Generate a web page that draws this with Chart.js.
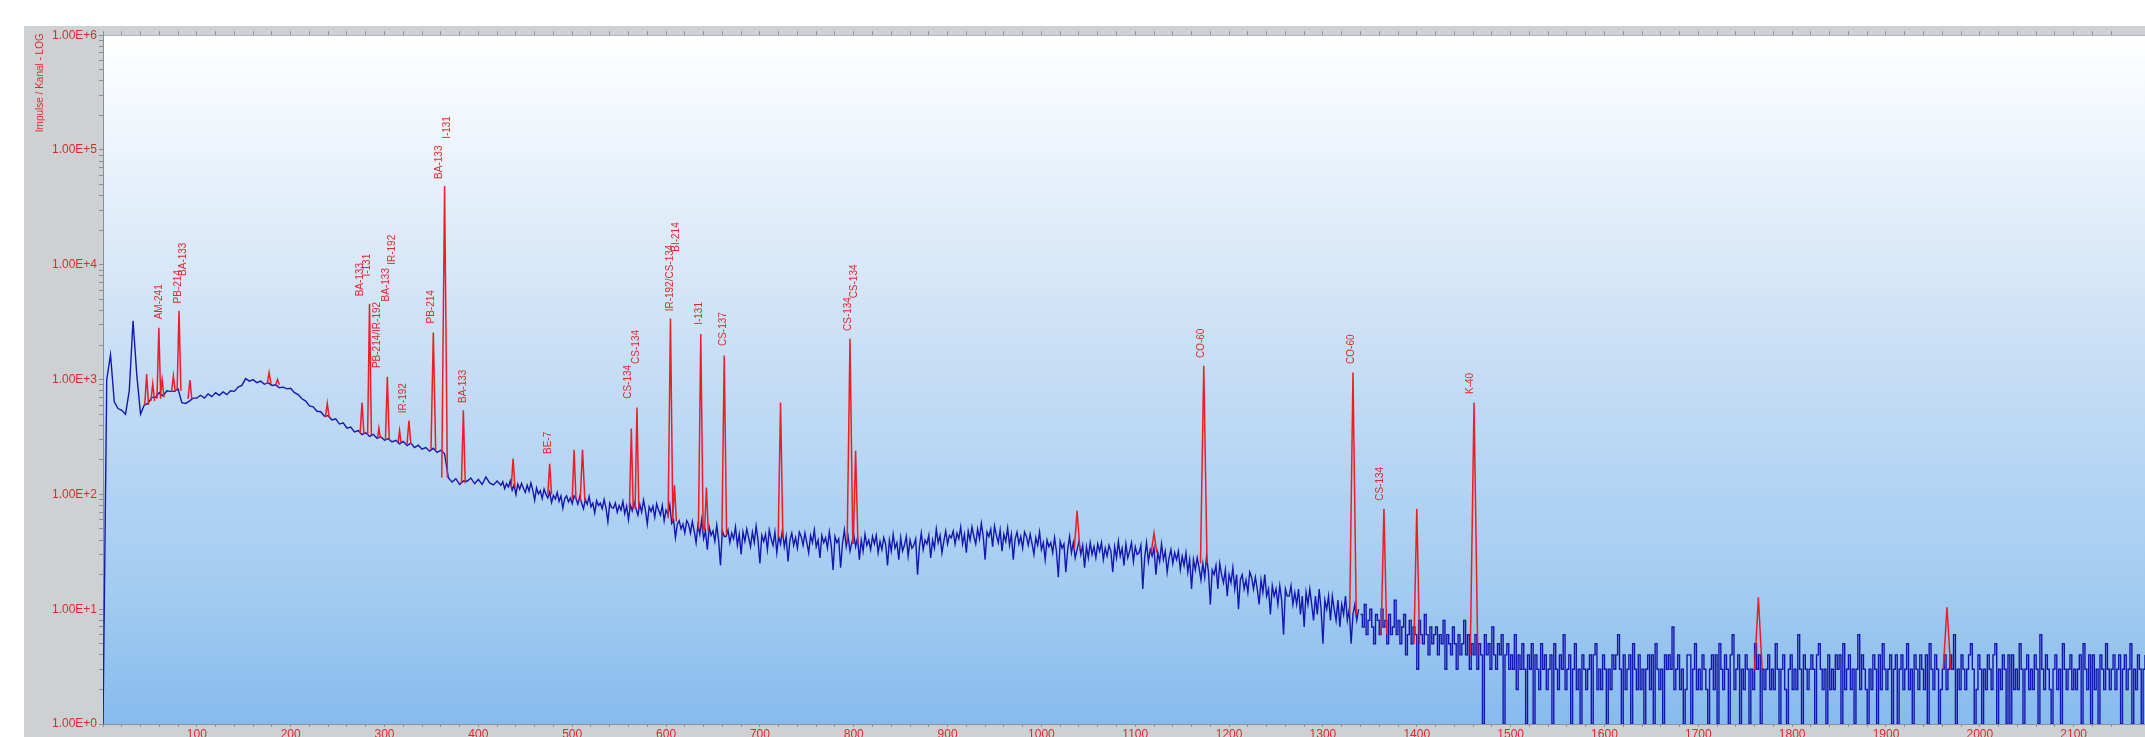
<!DOCTYPE html>
<html>
<head>
<meta charset="utf-8">
<title>Gamma spectrum</title>
<script src="https://cdn.jsdelivr.net/npm/chart.js@4.4.0/dist/chart.umd.min.js"></script>
<style>
  html, body { margin: 0; padding: 0; background: #ffffff; }
  #chartBox { position: absolute; left: 24px; top: 26px; width: 2121px; height: 711px; }
</style>
</head>
<body>
<div id="chartBox"><canvas id="spectrumChart"></canvas></div>
<script>
// spectrum.js - gamma spectrum (Impulse / Kanal, log scale)

// Continuum 0 - 420 keV, one value per 4 keV bin
const lowStepKeV = 4;
const lowCounts = [
    1, 1000, 1650, 640, 560, 540, 500, 800, 3250, 1100,
    500, 600, 620, 700, 700, 770, 720, 800, 790, 790,
    830, 630, 620, 650, 690, 690, 730, 690, 750, 710,
    770, 730, 780, 740, 800, 790, 860, 890, 1020, 970,
    1000, 940, 970, 910, 940, 890, 900, 850, 860, 830,
    840, 770, 740, 680, 650, 590, 580, 530, 525, 480,
    485, 445, 455, 410, 420, 378, 386, 350, 360, 332,
    344, 320, 334, 308, 318, 296, 306, 286, 296, 276,
    290, 266, 280, 256, 268, 248, 256, 238, 252, 232,
    242, 226, 140, 128, 137, 122, 131, 130, 139, 124,
    135, 122, 142, 126, 121, 131
];

// Continuum 424 - 1338 keV, one value per 2 keV bin
const midStartKeV = 424;
const midStepKeV = 2;
const midCounts = [
    120, 129, 112, 124, 116, 131, 109, 121, 100, 123, 111, 125, 113, 104, 120, 107, 126, 109, 89, 114,
    101, 108, 92, 111, 100, 93, 105, 85, 98, 91, 104, 87, 97, 76, 92, 97, 86, 93, 83, 97,
    92, 82, 96, 84, 75, 90, 82, 96, 78, 84, 69, 88, 80, 84, 75, 90, 76, 58, 84, 77,
    76, 84, 70, 80, 73, 87, 68, 79, 60, 81, 72, 85, 75, 66, 82, 70, 89, 73, 55, 78,
    71, 79, 63, 83, 73, 66, 80, 59, 73, 67, 81, 56, 60, 42, 55, 59, 50, 55, 46, 59,
    55, 46, 58, 48, 38, 54, 45, 60, 41, 48, 33, 52, 44, 48, 39, 54, 40, 24, 48, 43,
    43, 49, 38, 46, 41, 52, 36, 45, 30, 47, 39, 50, 42, 35, 47, 38, 53, 40, 25, 44,
    39, 45, 33, 49, 41, 36, 47, 31, 43, 37, 49, 35, 43, 26, 40, 46, 36, 42, 34, 47,
    43, 36, 46, 38, 31, 44, 38, 49, 35, 40, 28, 44, 38, 42, 34, 47, 36, 22, 43, 38,
    41, 23, 37, 49, 35, 43, 32, 38, 45, 35, 42, 27, 40, 32, 45, 36, 40, 33, 43, 37,
    44, 31, 39, 33, 42, 37, 24, 40, 32, 45, 34, 38, 27, 42, 32, 36, 43, 29, 40, 34,
    36, 41, 20, 35, 46, 33, 40, 37, 44, 28, 40, 34, 50, 38, 44, 31, 39, 48, 37, 44,
    42, 48, 37, 46, 41, 52, 37, 45, 31, 48, 40, 52, 43, 37, 50, 41, 56, 43, 27, 47,
    43, 50, 35, 53, 44, 38, 49, 32, 45, 39, 51, 36, 45, 27, 41, 47, 37, 43, 34, 47,
    43, 36, 45, 37, 30, 42, 36, 47, 33, 38, 27, 40, 35, 38, 31, 42, 32, 19, 39, 34,
    37, 21, 33, 43, 31, 38, 28, 33, 39, 30, 36, 23, 35, 28, 38, 30, 35, 28, 37, 32,
    38, 27, 34, 29, 36, 32, 21, 35, 28, 39, 29, 34, 24, 37, 28, 32, 38, 26, 35, 30,
    31, 36, 15, 28, 38, 26, 33, 29, 34, 20, 31, 26, 37, 27, 32, 21, 28, 33, 25, 31,
    27, 32, 22, 29, 24, 31, 21, 27, 15, 27, 22, 28, 23, 18, 25, 19, 29, 21, 11, 22,
    20, 24, 15, 25, 20, 17, 22, 13, 20, 17, 23, 15, 20, 10, 18, 20, 15, 18, 14, 21,
    19, 15, 19, 15, 11, 18, 14, 20, 13, 15, 9, 16, 13, 15, 11, 16, 12, 6, 15, 13,
    13, 16, 11, 14, 11, 15, 9, 13, 7, 14, 11, 15, 11, 8, 13, 9, 15, 10, 5, 12,
    10, 13, 8, 13, 10, 8, 12, 7, 11, 9, 13, 8, 10, 5, 9, 11, 8, 10
];

// Continuum from 1340 keV, one value per 2 keV bin (few counts, drawn stepped)
const highStartKeV = 1340;
const highStepKeV = 2;
const highCounts = [
    9, 7, 11, 6, 8, 10, 7, 5, 9, 8, 6, 10, 7, 8, 5, 9, 6, 7, 12, 6,
    8, 5, 7, 9, 4, 6, 8, 5, 7, 6, 3, 8, 6, 5, 9, 6, 4, 7, 5, 6,
    7, 4, 6, 5, 8, 3, 6, 5, 4, 7, 5, 3, 6, 4, 5, 8, 4, 6, 3, 5,
    4, 6, 3, 5, 4, 1, 6, 4, 5, 3, 7, 4, 3, 5, 4, 6, 1, 4, 5, 3,
    4, 3, 6, 2, 4, 3, 5, 3, 1, 4, 3, 5, 1, 4, 3, 2, 5, 3, 4, 2,
    3, 4, 1, 5, 3, 2, 4, 3, 6, 2, 3, 4, 1, 3, 5, 2, 3, 1, 4, 3,
    2, 3, 4, 1, 4, 5, 2, 3, 2, 4, 3, 1, 3, 2, 4, 3, 4, 6, 3, 1,
    4, 2, 3, 4, 1, 5, 3, 2, 4, 2, 3, 1, 3, 4, 2, 4, 1, 5, 3, 2,
    3, 1, 4, 3, 4, 3, 7, 2, 3, 4, 2, 3, 1, 2, 4, 4, 1, 3, 5, 2,
    3, 2, 4, 3, 2, 1, 3, 4, 2, 4, 1, 5, 3, 2, 4, 3, 1, 4, 6, 2,
    3, 4, 1, 3, 2, 4, 3, 1, 3, 2, 5, 3, 4, 1, 3, 2, 3, 4, 2, 3,
    2, 5, 3, 1, 3, 4, 2, 1, 3, 4, 2, 3, 2, 6, 3, 1, 4, 3, 2, 3,
    4, 3, 1, 4, 5, 3, 2, 3, 1, 4, 2, 3, 2, 4, 3, 4, 1, 5, 2, 3,
    4, 2, 3, 1, 3, 6, 2, 4, 3, 2, 1, 3, 2, 4, 3, 1, 4, 2, 5, 3,
    2, 3, 4, 1, 3, 4, 1, 3, 4, 2, 3, 5, 2, 3, 1, 4, 3, 2, 4, 3,
    2, 4, 1, 5, 3, 2, 4, 3, 1, 2, 3, 4, 2, 3, 4, 3, 6, 1, 3, 2,
    4, 3, 2, 3, 4, 5, 3, 1, 2, 4, 3, 1, 3, 2, 4, 3, 2, 4, 5, 1,
    3, 2, 4, 3, 1, 4, 1, 4, 2, 3, 2, 5, 3, 1, 3, 4, 2, 3, 2, 4,
    3, 1, 6, 3, 2, 4, 3, 2, 1, 3, 4, 2, 3, 1, 5, 3, 2, 3, 4, 2,
    3, 2, 3, 4, 1, 5, 3, 2, 4, 1, 4, 2, 3, 1, 4, 3, 2, 5, 3, 2,
    3, 4, 2, 3, 4, 1, 3, 4, 2, 3, 5, 1, 3, 2, 4, 3, 1, 3, 4
];

// Identified peaks (red): centre keV, top count, count at foot, half width keV
const peakEnergies = [46.5, 53, 59.5, 63, 75, 81, 92.6, 177, 186, 239,
    276, 284, 294, 303, 316, 326, 352, 364, 384, 437,
    476, 502, 511, 563, 569, 604.7, 609, 637, 643, 662,
    722, 796, 802, 1038, 1120, 1173, 1332, 1365, 1400, 1461,
    1764, 1965];
const peakTops = [1120, 920, 2830, 1000, 1080, 3980, 990, 1150, 1000, 620,
    630, 4570, 380, 1060, 360, 440, 2570, 48600, 540, 205,
    185, 245, 245, 375, 570, 3400, 120, 2500, 115, 1620,
    630, 2270, 240, 72, 46, 1320, 1150, 75, 75, 630,
    12.7, 10.4];
const peakBases = [600, 650, 680, 700, 780, 800, 680, 920, 900, 470,
    340, 330, 310, 300, 285, 275, 245, 140, 125, 115,
    100, 90, 88, 75, 75, 62, 58, 50, 48, 44,
    42, 38, 37, 33, 31, 25, 9, 6, 5, 4,
    3, 3];
const peakHalfWidths = [2, 2, 2, 2, 2, 2, 2, 2, 2, 2,
    2, 2, 1.5, 2, 1.5, 2, 2.5, 3, 2, 2,
    2, 2, 2.5, 2, 2, 2.5, 2, 2.5, 2, 2.5,
    2.5, 3, 2.5, 3, 3, 3.5, 3.5, 3, 3, 4,
    4, 4];

// Nuclide labels: text, keV of the text column, count where the text starts
const labelTexts = ['AM-241', 'PB-214', 'BA-133', 'BA-133', 'I-131', 'PB-214/IR-192',
    'BA-133', 'IR-192', 'IR-192', 'PB-214', 'BA-133', 'I-131', 'BA-133', 'BE-7',
    'CS-134', 'CS-134', 'IR-192/CS-134', 'BI-214', 'I-131', 'CS-137', 'CS-134',
    'CS-134', 'CO-60', 'CO-60', 'CS-134', 'K-40'];
const labelEnergies = [59.7, 80, 85, 274, 282, 292,
    301.5, 308, 320, 349.5, 358, 366.5, 383.6, 474,
    560, 568, 605, 611, 635, 661, 794,
    801, 1170, 1330, 1361, 1457];
const labelCounts = [3350, 4610, 8000, 5310, 7900, 1260,
    4800, 10000, 510, 3080, 56000, 125000, 625, 225,
    680, 1370, 3930, 13000, 3000, 1960, 2650,
    5100, 1540, 1370, 88, 750];

// Axis ticks
const yDecades = [1, 10, 100, 1000, 10000, 100000, 1000000];
const yTickLabels = ['1.00E+0', '1.00E+1', '1.00E+2', '1.00E+3', '1.00E+4', '1.00E+5', '1.00E+6'];
const xMajorTicks = [100, 200, 300, 400, 500, 600, 700, 800, 900, 1000, 1100,
    1200, 1300, 1400, 1500, 1600, 1700, 1800, 1900, 2000, 2100];
const xMaxKeV = 2176;

const RED = '#ee1c24';
const LABEL_RED = '#e02a2a';
const BLUE = '#1616b0';
const FONT = '"Liberation Sans", Arial, sans-serif';

// build datasets
const continuumPoints = lowCounts.map((c, i) => ({ x: i * lowStepKeV, y: c }))
    .concat(midCounts.map((c, i) => ({ x: midStartKeV + i * midStepKeV, y: c })));
const highPoints = highCounts.map((c, i) => ({ x: highStartKeV + i * highStepKeV, y: c }));

const peakPoints = [];
peakEnergies.forEach((e, i) => {
    const hw = peakHalfWidths[i];
    peakPoints.push({ x: e - hw, y: peakBases[i] });
    peakPoints.push({ x: e, y: peakTops[i] });
    peakPoints.push({ x: e + hw, y: peakBases[i] });
    peakPoints.push({ x: e + hw, y: null });
});

const yTickValues = [];
yDecades.forEach(d => {
    for (let m = 1; m < 10; m++) {
        if (d * m <= 1000000) yTickValues.push(d * m);
    }
});

const framePlugin = {
    id: 'frame',
    beforeDraw(chart) {
        const { ctx, chartArea: a, width, height } = chart;
        ctx.save();
        ctx.fillStyle = '#cdd1d4';
        ctx.fillRect(0, 0, width, height);
        const g = ctx.createLinearGradient(0, a.top, 0, a.bottom);
        g.addColorStop(0, '#ffffff');
        g.addColorStop(0.15, '#eef5fc');
        g.addColorStop(0.5, '#c4dcf4');
        g.addColorStop(0.8, '#a3ccf1');
        g.addColorStop(1, '#86bbed');
        ctx.fillStyle = g;
        ctx.fillRect(a.left, a.top, a.right - a.left, a.bottom - a.top);
        ctx.restore();
    }
};

const labelPlugin = {
    id: 'peakLabels',
    afterDatasetsDraw(chart) {
        const { ctx, scales, chartArea } = chart;
        ctx.save();
        ctx.fillStyle = LABEL_RED;
        ctx.font = '10px ' + FONT;
        ctx.textAlign = 'left';
        ctx.textBaseline = 'middle';
        labelTexts.forEach((txt, i) => {
            const x = scales.x.getPixelForValue(labelEnergies[i]);
            const y = scales.y.getPixelForValue(labelCounts[i]);
            ctx.save();
            ctx.translate(x, y);
            ctx.rotate(-Math.PI / 2);
            ctx.fillText(txt, 0, 0);
            ctx.restore();
        });

        // y axis title, top aligned like the original
        ctx.font = '10px ' + FONT;
        ctx.translate(chartArea.left - 63, chartArea.top + 97);
        ctx.rotate(-Math.PI / 2);
        ctx.fillText('Impulse / Kanal - LOG', 0, 0);
        ctx.restore();
    }
};

const ctx = document.getElementById('spectrumChart').getContext('2d');
new Chart(ctx, {
    type: 'line',
    data: {
        datasets: [
            {
                label: 'Peaks',
                data: peakPoints,
                borderColor: RED,
                borderWidth: 1.5,
                pointRadius: 0,
                spanGaps: false,
                order: 0
            },
            {
                label: 'Spectrum',
                data: continuumPoints,
                borderColor: BLUE,
                borderWidth: 1.4,
                pointRadius: 0,
                order: 1
            },
            {
                label: 'Spectrum high',
                data: highPoints,
                borderColor: BLUE,
                borderWidth: 1.4,
                pointRadius: 0,
                stepped: true,
                order: 2
            }
        ]
    },
    options: {
        responsive: true,
        maintainAspectRatio: false,
        animation: false,
        layout: { padding: 0 },
        plugins: {
            legend: { display: false },
            tooltip: { enabled: false }
        },
        scales: {
            x: {
                type: 'linear',
                position: 'bottom',
                min: 0,
                max: xMaxKeV,
                afterFit: s => { s.height = 13; },
                border: { color: '#8a8f94' },
                grid: { drawOnChartArea: false, tickLength: 3, color: '#8a8f94' },
                ticks: {
                    stepSize: 20,
                    autoSkip: false,
                    maxRotation: 0,
                    padding: 0,
                    color: LABEL_RED,
                    font: { family: FONT, size: 12 },
                    callback: v => (xMajorTicks.includes(v) ? String(v) : '')
                }
            },
            xTop: {
                type: 'linear',
                position: 'top',
                min: 0,
                max: xMaxKeV,
                afterFit: s => { s.height = 7; },
                border: { color: '#b4b8bc' },
                grid: { drawOnChartArea: false, tickLength: 4, color: '#8a8f94' },
                ticks: { stepSize: 20, autoSkip: false, display: false }
            },
            y: {
                type: 'logarithmic',
                min: 1,
                max: 1000000,
                afterFit: s => { s.width = 79; },
                afterBuildTicks: s => { s.ticks = yTickValues.map(v => ({ value: v })); },
                border: { color: '#8a8f94' },
                grid: { drawOnChartArea: false, tickLength: 4, color: '#8a8f94' },
                ticks: {
                    autoSkip: false,
                    padding: 2,
                    color: LABEL_RED,
                    font: { family: FONT, size: 12 },
                    callback: v => {
                        const idx = yDecades.indexOf(v);
                        return idx >= 0 ? yTickLabels[idx] : '';
                    }
                }
            }
        }
    },
    plugins: [framePlugin, labelPlugin]
});
</script>
</body>
</html>
